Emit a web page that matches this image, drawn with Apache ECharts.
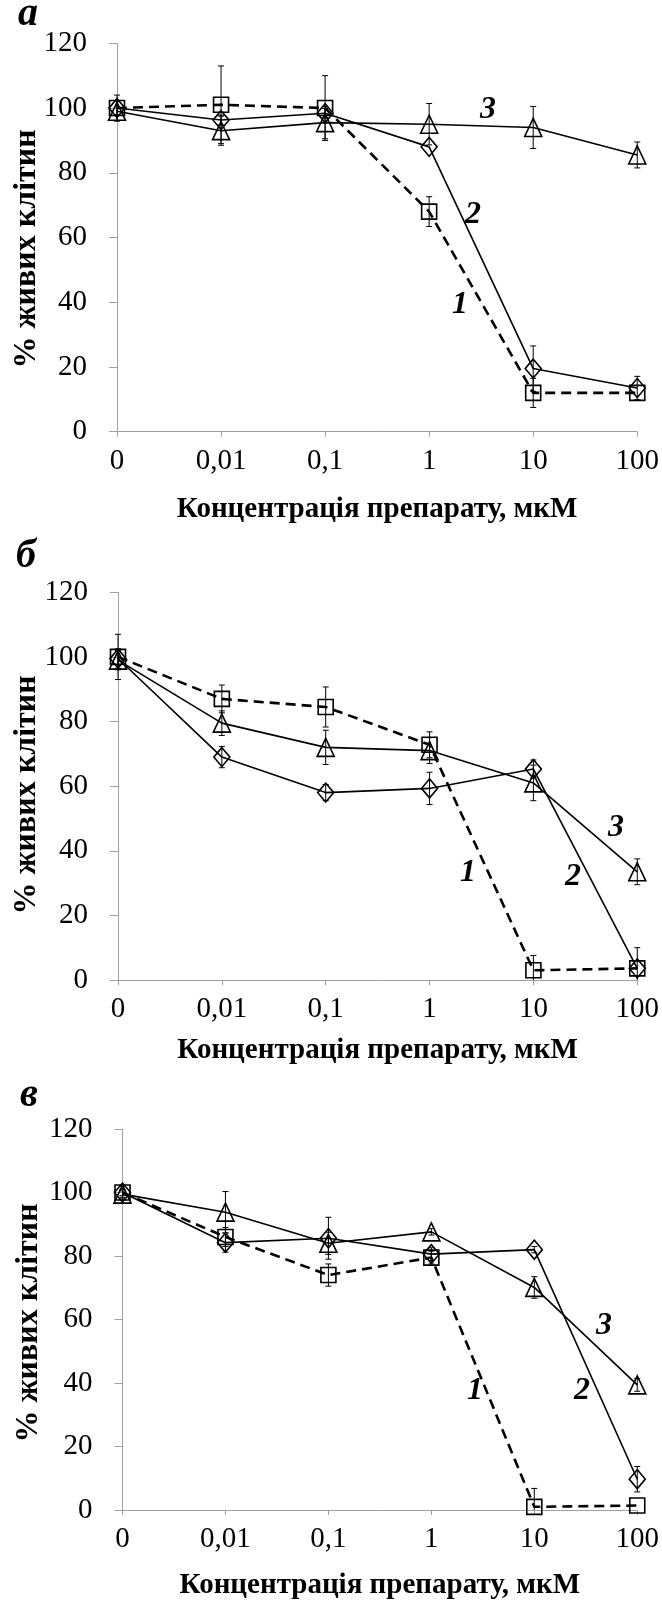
<!DOCTYPE html>
<html>
<head>
<meta charset="utf-8">
<script src="https://cdn.jsdelivr.net/npm/echarts@6/dist/echarts.min.js"></script>
<style>
  html, body { margin: 0; padding: 0; background: #fff; }
  #chart { width: 662px; height: 1603px; }
</style>
</head>
<body>
<div id="chart"></div>
<script>
// Concentration levels (µM)
const categories = ['0', '0,01', '0,1', '1', '10', '100'];
const yTicks = [0, 20, 40, 60, 80, 100, 120];

// Panel а
const a1 = [100, 101, 100, 68, 12, 12];
const a1Err = [4, 12, 10, 4.6, 4.5, 0];
const a2 = [100, 96.3, 98.4, 88, 19.5, 13.5];
const a2Err = [2, 1.5, 1.5, 0, 7, 3.6];
const a3 = [99, 93, 95.5, 95, 94, 85.5];
const a3Err = [3, 4.5, 5, 6.4, 6.5, 4];

// Panel б
const b1 = [100, 87, 84.5, 72.8, 3, 3.6];
const b1Err = [7, 4.3, 6.2, 4, 4.6, 0];
const b2 = [99.5, 69, 58, 59.3, 65.3, 3.6];
const b2Err = [3, 3.3, 2.5, 5, 2.8, 6.4];
const b3 = [99, 79.5, 72, 71, 61, 33.5];
const b3Err = [3, 3.8, 5.3, 4, 5.5, 4];

// Panel в
const c1 = [100, 86, 74, 79.5, 1, 1.4];
const c1Err = [2, 3, 3.5, 2, 5.8, 0];
const c2 = [100, 84.2, 85.6, 80.6, 82, 9.7];
const c2Err = [1, 3, 6.6, 2, 1, 4];
const c3 = [99.5, 93.8, 84, 87.6, 70.1, 39.4];
const c3Err = [1, 6.5, 3.5, 1, 3.4, 2];

const panels = [
  { tag: 'а', grid: { left: 117, top: 43.3, width: 520.5, height: 388.4 }, nameGap: 63,
    series: [[a1, a1Err], [a2, a2Err], [a3, a3Err]],
    tagPos: [28, 15], yTitle: [27, 249],
    numbers: [['1', 460, 305], ['2', 473, 215], ['3', 488, 110]] },
  { tag: 'б', grid: { left: 118, top: 592.3, width: 519.5, height: 387.7 }, nameGap: 56,
    series: [[b1, b1Err], [b2, b2Err], [b3, b3Err]],
    tagPos: [26, 557], yTitle: [27, 795],
    numbers: [['1', 468, 873], ['2', 573, 877], ['3', 616, 828]] },
  { tag: 'в', grid: { left: 122.5, top: 1129, width: 521, height: 381 }, nameGap: 61,
    series: [[c1, c1Err], [c2, c2Err], [c3, c3Err]],
    tagPos: [29, 1096], yTitle: [29, 1323],
    numbers: [['1', 475, 1391], ['2', 582, 1391], ['3', 604, 1326]] }
];

const FONT = "'Liberation Serif', 'Times New Roman', serif";
const AXIS_COLOR = '#a0a0a0';

// Marker style per series: 1 – squares on dashed line, 2 – diamonds, 3 – triangles
const styles = [
  { symbol: 'rect', size: [15, 15], line: { width: 2.6, type: [10, 6] } },
  { symbol: 'diamond', size: [16, 19], line: { width: 1.6, type: 'solid' } },
  { symbol: 'triangle', size: [17, 18], line: { width: 1.6, type: 'solid' } }
];

// Vertical error bar with short caps; the lower end stops at the axis minimum
function renderErr(params, api) {
  const x = api.value(0), y = api.value(1), e = api.value(2);
  if (!e) return null;
  const lowVal = Math.max(y - e, yTicks[0]);
  const top = api.coord([x, y + e]);
  const bot = api.coord([x, lowVal]);
  const w = 3;
  const st = { stroke: '#000', lineWidth: 1 };
  const children = [
    { type: 'line', shape: { x1: top[0], y1: top[1], x2: bot[0], y2: bot[1] }, style: st },
    { type: 'line', shape: { x1: top[0] - w, y1: top[1], x2: top[0] + w, y2: top[1] }, style: st }
  ];
  if (y - e >= yTicks[0]) {
    children.push({ type: 'line', shape: { x1: bot[0] - w, y1: bot[1], x2: bot[0] + w, y2: bot[1] }, style: st });
  }
  return { type: 'group', children };
}

const grids = [], xAxes = [], yAxes = [], series = [], graphics = [];

panels.forEach((p, i) => {
  grids.push(p.grid);
  xAxes.push({
    type: 'category', gridIndex: i, data: categories, boundaryGap: false,
    name: 'Концентрація препарату, мкМ', nameLocation: 'middle', nameGap: p.nameGap,
    nameTextStyle: { fontFamily: FONT, fontSize: 29, fontWeight: 'bold', color: '#000' },
    axisLine: { lineStyle: { color: AXIS_COLOR, width: 1 } },
    axisTick: { length: 5, lineStyle: { color: AXIS_COLOR } },
    axisLabel: { fontFamily: FONT, fontSize: 29, color: '#000', margin: 15, interval: 0 },
    splitLine: { show: false }
  });
  yAxes.push({
    type: 'value', gridIndex: i, min: yTicks[0], max: yTicks[yTicks.length - 1], interval: 20,
    axisLine: { show: true, lineStyle: { color: AXIS_COLOR, width: 1 } },
    axisTick: { show: true, length: 8, lineStyle: { color: AXIS_COLOR } },
    axisLabel: { fontFamily: FONT, fontSize: 29, color: '#000', margin: 30 },
    splitLine: { show: false }
  });

  p.series.forEach(([vals, errs], k) => {
    const s = styles[k];
    series.push({
      type: 'line', xAxisIndex: i, yAxisIndex: i, data: vals,
      symbol: s.symbol, symbolSize: s.size, showAllSymbol: true,
      lineStyle: { color: '#000', width: s.line.width, type: s.line.type },
      itemStyle: { color: 'rgba(255,255,255,0)', borderColor: '#000', borderWidth: 1.6 },
      animation: false, silent: true, z: 3
    });
    series.push({
      type: 'custom', xAxisIndex: i, yAxisIndex: i,
      data: vals.map((v, j) => [j, v, errs[j]]),
      renderItem: renderErr, animation: false, silent: true, z: 4
    });
  });

  graphics.push({
    type: 'text', x: p.tagPos[0], y: p.tagPos[1],
    style: { text: p.tag, font: `italic bold 40px ${FONT}`, fill: '#000', align: 'center', verticalAlign: 'middle' }
  });
  graphics.push({
    type: 'text', x: p.yTitle[0], y: p.yTitle[1], rotation: Math.PI / 2,
    style: { text: '% живих клітин', font: `bold 32px ${FONT}`, fill: '#000', align: 'center', verticalAlign: 'middle' }
  });
  p.numbers.forEach(([t, x, y]) => {
    graphics.push({
      type: 'text', x: x, y: y,
      style: { text: t, font: `italic bold 32px ${FONT}`, fill: '#000', align: 'center', verticalAlign: 'middle' }
    });
  });
});

const chart = echarts.init(document.getElementById('chart'), null, { renderer: 'canvas' });
chart.setOption({
  backgroundColor: '#fff',
  animation: false,
  grid: grids,
  xAxis: xAxes,
  yAxis: yAxes,
  series: series,
  graphic: graphics
});
</script>
</body>
</html>
